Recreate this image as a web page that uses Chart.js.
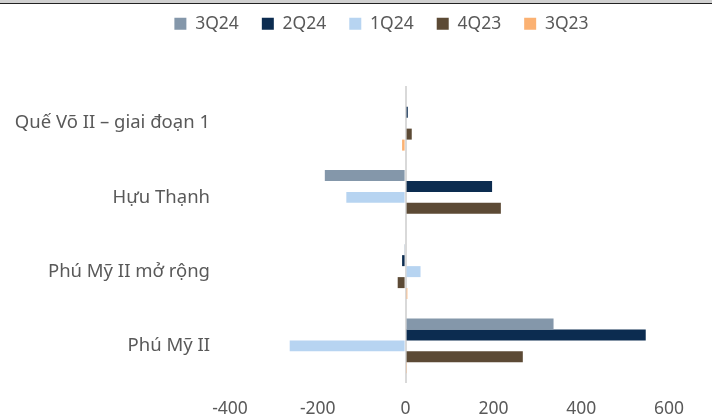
<!DOCTYPE html>
<html>
<head>
<meta charset="utf-8">
<script src="https://cdn.jsdelivr.net/npm/chart.js@4/dist/chart.umd.min.js"></script>
<style>
  html, body { margin: 0; padding: 0; background: #fff; }
  #topbar { height: 3px; background: #d0d0d0; border-bottom: 1px solid #222; }
  #wrap { position: relative; width: 712px; height: 416px; }
</style>
</head>
<body>
<div id="topbar"></div>
<div id="wrap"><canvas id="c"></canvas></div>
<script>
// Industrial park projects and quarterly figures
const categories = ["Quế Võ II – giai đoạn 1", "Hựu Thạnh", "Phú Mỹ II mở rộng", "Phú Mỹ II"];
const q3_24 = [0, -184, -3, 337];
const q2_24 = [5, 197, -8, 547];
const q1_24 = [0, -135, 34, -264];
const q4_23 = [14, 217, -18, 267];
const q3_23 = [-8, 0, 4, 3];
const xTicks = [-400, -200, 0, 200, 400, 600];

const seriesNames = ["3Q24", "2Q24", "1Q24", "4Q23", "3Q23"];
const seriesData = [q3_24, q2_24, q1_24, q4_23, q3_23];
const seriesColors = ["#8497AA", "#0C2C50", "#B7D4F1", "#5C4A35", "#FBB172"];

const textColor = "#595959";
const fontFamily = "'Noto Sans', 'Open Sans', sans-serif";

new Chart(document.getElementById("c"), {
  type: "bar",
  data: {
    labels: categories,
    datasets: seriesData.map((d, i) => ({
      label: seriesNames[i],
      data: d,
      backgroundColor: seriesColors[i],
      borderWidth: 0,
      categoryPercentage: 0.74,
      barPercentage: 1
    }))
  },
  options: {
    indexAxis: "y",
    responsive: true,
    maintainAspectRatio: false,
    animation: false,
    layout: { padding: { left: 0, right: 43, top: -12, bottom: 0 } },
    plugins: {
      tooltip: { enabled: false },
      legend: {
        position: "top",
        labels: {
          color: textColor,
          font: { family: fontFamily, size: 17.5 },
          boxWidth: 12,
          boxHeight: 12,
          padding: 23
        }
      }
    },
    scales: {
      x: {
        min: -400,
        max: 600,
        afterBuildTicks: (s) => { s.ticks = xTicks.map(v => ({ value: v })); },
        afterFit: (s) => { s.height = 37; },
        ticks: {
          color: textColor,
          font: { family: fontFamily, size: 17.5 },
          padding: 16
        },
        border: { display: false },
        grid: {
          drawTicks: false,
          lineWidth: 2,
          color: (ctx) => (ctx.tick && ctx.tick.value === 0 ? "#d9d9d9" : "rgba(0,0,0,0)")
        }
      },
      y: {
        afterFit: (s) => { s.width = 230; },
        ticks: {
          color: textColor,
          font: { family: fontFamily, size: 18.5 },
          padding: 20
        },
        border: { display: false },
        grid: { display: false, drawTicks: false }
      }
    }
  },
  plugins: [{
    id: "legendPlacement",
    afterInit(chart) {
      const lg = chart.legend;
      const fit = lg.fit;
      lg.fit = function () { fit.call(this); this.height = 94; };
    },
    afterLayout(chart) {
      // nudge the legend row to the right
      chart.legend.left += 47;
      chart.legend.right += 47;
    }
  }]
});
</script>
</body>
</html>
